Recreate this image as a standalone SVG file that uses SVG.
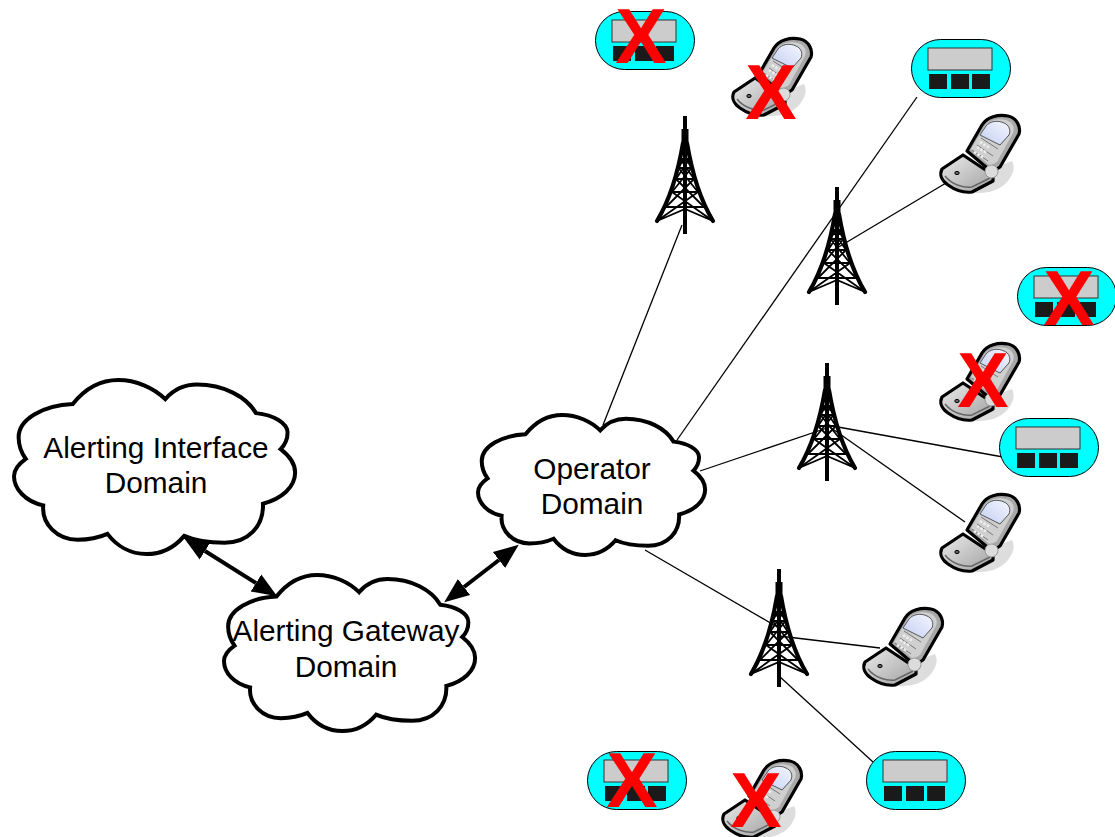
<svg xmlns="http://www.w3.org/2000/svg" xmlns:xlink="http://www.w3.org/1999/xlink" width="1115" height="837" viewBox="0 0 1115 837">
<style>
.cl{fill:#fff;stroke:#000;stroke-width:4;vector-effect:non-scaling-stroke;stroke-linejoin:miter}
.lb{font-family:"Liberation Sans",Arial,sans-serif;font-size:29.800px;fill:#000;text-anchor:middle}
.x{font-family:"Liberation Sans",Arial,sans-serif;font-weight:700;font-size:77px;fill:#f00;text-anchor:middle}
.thin{stroke:#000;stroke-width:1.300;fill:none}
.dbl{stroke:#000;stroke-width:4;fill:none;marker-start:url(#ah);marker-end:url(#ah)}
</style>
<defs>
<marker id="ah" markerUnits="userSpaceOnUse" markerWidth="26" markerHeight="22" refX="0" refY="0" viewBox="0 -11 26 22" orient="auto-start-reverse"><path d="M0 -10L25 0L0 10z" fill="#000"/></marker>
<linearGradient id="pg" x1="0" y1="0" x2="1" y2="1"><stop offset="0" stop-color="#ececec"/><stop offset="1" stop-color="#a0a0a0"/></linearGradient>
<linearGradient id="sg" x1="1" y1="0" x2="0" y2="1"><stop offset="0" stop-color="#f4f6ff"/><stop offset="1" stop-color="#c3cff2"/></linearGradient>
<path id="cloud" class="cl" d="M59.700 24.700C72 9 88 0 106 0C124 0 142 8 153.700 19.700C162 10 172 4.700 186 4.700C213 4.700 236 17 246 34C264 36 278 44 278 54C278 60 276 66 271 71C280 78 285.700 86 285.700 95C285.700 110 272 122 253 127C254 150 238 167 214 167C198 167 184 165 173 160C163 172 150 178.700 134.700 178.700C118 178.700 104 170 95 158C86 162 76 164 64.700 164C44 164 28 148 29.700 128.700C12 125 0 112 0 98.700C0 92 5 86 12 81C7 74 4.700 66 4.700 58.700C4.700 40 30 26 59.700 24.700Z"/>
<g id="tower">
<path d="M0 1V119" stroke="#000" stroke-width="4" fill="none"/>
<path d="M0 14V34" stroke="#000" stroke-width="7" fill="none"/>
<path d="M-2 28Q-10 76-28 106M2 28Q10 76 28 106" stroke="#000" stroke-width="4.200" fill="none" stroke-linecap="round"/>
<path d="M-3 36H3M-4.500 44H4.500M-6.500 53H6.500M-9 64H9M-13 77H13M-19 92H19M-3 36L6.500 53M3 36L-6.500 53M-4.500 44L9 64M4.500 44L-9 64M-6.500 53L13 77M6.500 53L-13 77M-9 64L19 92M9 64L-19 92M-13 77L28 106M13 77L-28 106M-28 106L0 94L28 106" stroke="#000" stroke-width="1.800" fill="none"/>
</g>
<g id="device">
<rect x="0.500" y="0.500" width="99" height="58" rx="29" ry="29" fill="#0ff" stroke="#000" stroke-width="1"/>
<rect x="17" y="9" width="64" height="22" fill="#ccc" stroke="#333" stroke-width="1"/>
<rect x="18" y="35" width="18" height="15" fill="#1a1a1a"/>
<rect x="40" y="35" width="18" height="15" fill="#1a1a1a"/>
<rect x="61" y="35" width="18" height="15" fill="#1a1a1a"/>
</g>
<g id="phone">
<path d="M72 46C75 52 74 58 68 66C60 76 46 79 30 78L40 58z" fill="#ddd"/>
<path d="M2 54L23 40L53 60L53 66L32 77C24 78 15 75 8 70C2 66 -1 60 2 54z" fill="url(#pg)" stroke="#000" stroke-width="3.200" stroke-linejoin="round"/>
<path d="M5 61C12 70 24 73 32 72L50 63" fill="none" stroke="#666" stroke-width="1.500"/>
<ellipse cx="17" cy="58" rx="2.200" ry="1.600" fill="#666" stroke="#000"/>
<path d="M27 36L42 10C47 2 58 -1 68 1C77 3 81 12 79 19L60 52L52 57z" fill="#a8a8a8" stroke="#000" stroke-width="3.200" stroke-linejoin="round"/>
<path d="M31 34L44 12C49 5 58 3 66 5C73 7 75 13 73 18L57 47L50 51z" fill="#cfcfcf"/>
<path d="M40 20L46 11C50 6 58 5 64 8C69 10 71 15 69 20L60 30z" fill="url(#sg)" stroke="#333" stroke-width="0.800"/>
<path d="M32 35L48 46M37 30L53 41M41 23L58 34" stroke="#777" stroke-width="1" fill="none"/>
<path d="M40 27L50 33M37 32L47 38M34 37L44 43" stroke="#eee" stroke-width="2.500" stroke-dasharray="2.500 1.500" fill="none"/>
<circle cx="51.500" cy="56.500" r="6.500" fill="#dcdcdc" stroke="#999" stroke-width="1"/>
</g>
</defs>

<g id="connectors">
<path class="thin" d="M603 425L682 225"/>
<path class="thin" d="M677 440L917 97"/>
<path class="thin" d="M837 248L946 183"/>
<path class="thin" d="M700 471L827 428"/>
<path class="thin" d="M827 425L1003 457"/>
<path class="thin" d="M827 425L965 522"/>
<path class="thin" d="M645 550L779 628"/>
<path class="thin" d="M779 636L880 648"/>
<path class="thin" d="M779 676L873 762"/>
<path class="dbl" d="M205 551L256 583"/>
<path class="dbl" d="M464 587L499 560"/>
</g>

<g id="cloud-interface"><use href="#cloud" transform="translate(14 380) scale(.984 .974)"/><text class="lb" x="156" y="458">Alerting Interface</text><text class="lb" x="156" y="493">Domain</text></g>
<g id="cloud-gateway"><use href="#cloud" transform="translate(224 575) scale(.879 .873)"/><text class="lb" x="346" y="641">Alerting Gateway</text><text class="lb" x="346" y="677">Domain</text></g>
<g id="cloud-operator"><use href="#cloud" transform="translate(478 415) scale(.795 .783)"/><text class="lb" x="592" y="479">Operator</text><text class="lb" x="592" y="514">Domain</text></g>

<g id="tower-1"><use href="#tower" x="685" y="115"/></g>
<g id="tower-2"><use href="#tower" x="837" y="186"/></g>
<g id="tower-3"><use href="#tower" x="827" y="362"/></g>
<g id="tower-4"><use href="#tower" x="779" y="568"/></g>

<g id="device-1"><use href="#device" x="595" y="11"/><text class="x" x="641" y="63">X</text></g>
<g id="phone-1"><use href="#phone" x="732" y="38"/><text class="x" x="771" y="119">X</text></g>
<g id="device-2"><use href="#device" x="911" y="39"/></g>
<g id="phone-2"><use href="#phone" x="940" y="115"/></g>
<g id="device-3"><use href="#device" x="1017" y="267"/><text class="x" x="1069" y="325">X</text></g>
<g id="phone-3"><use href="#phone" x="940" y="343"/><text class="x" x="983" y="407">X</text></g>
<g id="device-4"><use href="#device" x="999" y="418"/></g>
<g id="phone-4"><use href="#phone" x="940" y="494"/></g>
<g id="phone-5"><use href="#phone" x="863" y="608"/></g>
<g id="device-5"><use href="#device" x="587" y="751"/><text class="x" x="632" y="807">X</text></g>
<g id="phone-6"><use href="#phone" x="722" y="760"/><text class="x" x="756" y="827">X</text></g>
<g id="device-6"><use href="#device" x="866" y="751"/></g>
</svg>
